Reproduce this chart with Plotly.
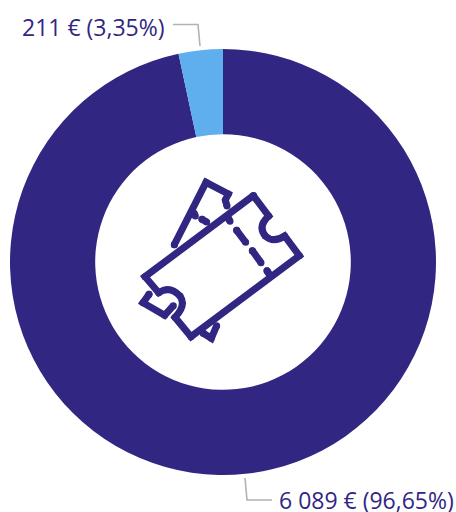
import plotly.graph_objects as go

labels = ["6 089 € (96,65%)", "211 € (3,35%)"]
values = [6089, 211]
colors = ["#312783", "#5FAEEE"]
W, H = 456, 512
INK = "#312783"
GREY = "#B2B2B2"
FONT = "Open Sans, Noto Sans, sans-serif"


def px(x, y):
    return x / W, 1 - y / H


def zoom(x, y):
    return px(120 + x / 3, 160 + y / 3)


def path(cmds, conv):
    out = []
    for c, pts in cmds:
        coords = " ".join("%.5f,%.5f" % conv(*p) for p in pts)
        out.append(c + " " + coords)
    return " ".join(out)


fig = go.Figure(go.Pie(
    labels=labels, values=values, hole=0.6, sort=False, direction="clockwise",
    rotation=0, marker=dict(colors=colors, line=dict(width=0)),
    textinfo="none", hoverinfo="none", showlegend=False,
    domain=dict(x=[10 / W, 436 / W], y=[1 - 475 / H, 1 - 49 / H]),
))

shapes = []


def dot(p, width, color, conv):
    x, y = conv(*p)
    rx, ry = width / 2 / W, width / 2 / H
    shapes.append(dict(type="circle", xref="paper", yref="paper",
                       x0=x - rx, x1=x + rx, y0=y - ry, y1=y + ry,
                       fillcolor=color, line=dict(width=0), layer="above"))


def stroke(cmds, width=7, color=INK, caps=True, conv=zoom):
    shapes.append(dict(type="path", xref="paper", yref="paper", path=path(cmds, conv),
                       line=dict(color=color, width=width), fillcolor="rgba(0,0,0,0)", layer="above"))
    if caps:
        dot(cmds[0][1][0], width, color, conv)
        for _, pts in cmds:
            dot(pts[-1], width, color, conv)


# front ticket
stroke([("M", [(400, 107)]), ("L", [(446, 168)]),
        ("Q", [(412, 198), (436, 228)]), ("Q", [(460, 250), (494, 228)]),
        ("L", [(538, 287)]), ("L", [(213, 530)]), ("L", [(165, 472)]),
        ("Q", [(200, 435), (180, 408)]), ("Q", [(150, 375), (116, 398)]),
        ("L", [(75, 350)]), ("L", [(400, 107)])])
# tear line
stroke([("M", [(350, 211)]), ("L", [(377, 247)])])
stroke([("M", [(397, 272)]), ("L", [(423, 308)])])
stroke([("M", [(326, 176)]), ("L", [(330, 184)])])
stroke([("M", [(441, 332)]), ("L", [(446, 340)])])
# back ticket
stroke([("M", [(163, 254)]), ("L", [(258, 67)]), ("L", [(325, 102)]),
        ("L", [(316, 120)]), ("L", [(321, 138)])])
stroke([("M", [(222, 160)]), ("L", [(226, 168)])])
stroke([("M", [(246, 178)]), ("L", [(260, 186)])])
stroke([("M", [(87, 403)]), ("L", [(69, 428)]), ("L", [(134, 466)]), ("L", [(160, 437)])])
stroke([("M", [(250, 520)]), ("L", [(274, 535)]), ("L", [(290, 497)])])
# leader lines
stroke([("M", [(173, 24.5)]), ("L", [(198, 24.5)]), ("L", [(200, 46)])], width=1.6, color=GREY, caps=False, conv=px)
stroke([("M", [(245, 478)]), ("L", [(247, 500)]), ("L", [(272, 500)])], width=1.6, color=GREY, caps=False, conv=px)

fig.update_layout(
    width=W, height=H, margin=dict(l=0, r=0, t=0, b=0),
    paper_bgcolor="white", plot_bgcolor="white", shapes=shapes,
    annotations=[
        dict(text=labels[1], x=167 / W, y=1 - 27 / H, xref="paper", yref="paper",
             xanchor="right", yanchor="middle", showarrow=False,
             font=dict(family=FONT, size=23, color=INK)),
        dict(text=labels[0], x=456 / W, y=1 - 500 / H, xref="paper", yref="paper",
             xanchor="right", yanchor="middle", showarrow=False,
             font=dict(family=FONT, size=23, color=INK)),
    ],
)
fig.write_html("out.html", config=dict(displayModeBar=False),
               post_script="document.body.style.margin='0';document.documentElement.style.overflow='hidden';")
